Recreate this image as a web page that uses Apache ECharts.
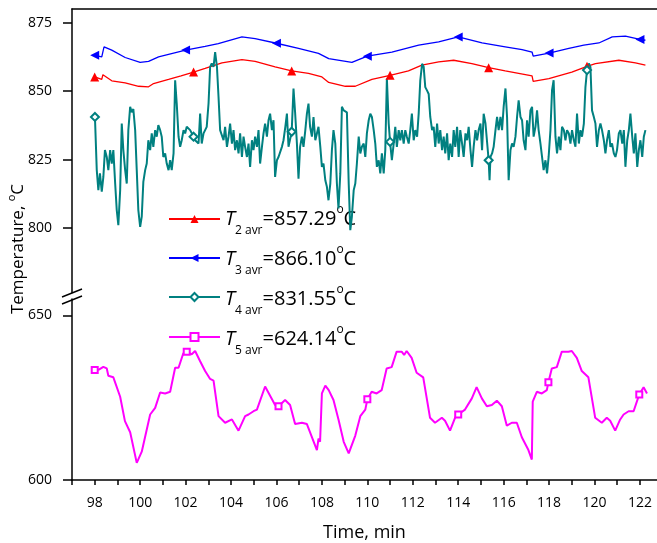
<!DOCTYPE html>
<html>
<head>
<meta charset="utf-8">
<script src="https://cdn.jsdelivr.net/npm/echarts@6.0.0/dist/echarts.min.js"></script>
<style>
  html, body { margin: 0; padding: 0; background: #fff; }
  #chart { width: 657px; height: 543px; }
</style>
</head>
<body>
<div id="chart"></div>
<script>
// ---- data ----
const xLabels = [98, 100, 102, 104, 106, 108, 110, 112, 114, 116, 118, 120, 122];
const upperLabels = [800, 825, 850, 875];
const lowerLabels = [600, 650];

const seriesNames = ['T2', 'T3', 'T4', 'T5'];
const subLabels = ['2 avr', '3 avr', '4 avr', '5 avr'];
const avgLabels = ['857.29', '866.10', '831.55', '624.14'];

// T2 (red)
const t2Time = [98.0, 98.31, 98.33, 98.36, 98.75, 99.34, 99.93, 100.37, 100.59, 101.25, 101.8, 102.35, 102.86,
  103.6, 104.48, 105.06, 105.94, 106.67, 107.41, 108.0, 108.3, 109.03, 109.47, 110.2, 111.0, 111.81, 112.4,
  113.14, 113.8, 114.6, 115.34, 116.07, 116.66, 117.25, 117.3, 117.99, 119.0, 119.67, 120.04, 121.07, 121.8, 122.24];
const t2Temp = [855.2, 854.3, 854.2, 856.0, 853.8, 853.0, 851.8, 851.6, 852.8, 854.3, 855.6, 857.0, 858.3,
  860.3, 861.5, 860.9, 858.9, 857.4, 856.5, 855.2, 853.2, 851.8, 851.8, 854.3, 855.8, 857.4, 859.5,
  860.7, 861.3, 860.1, 858.6, 857.4, 856.5, 855.6, 853.6, 854.6, 857.0, 859.1, 860.1, 861.3, 860.3, 859.5];
const t2Marks = [98.0, 102.35, 106.67, 111.0, 115.34, 119.67];

// T3 (blue)
const t3Time = [98.0, 98.31, 98.38, 98.41, 98.75, 99.34, 100.0, 100.37, 100.81, 102.0, 102.86, 103.44, 104.48,
  105.06, 106.0, 106.97, 107.85, 108.3, 109.32, 110.0, 110.2, 111.08, 112.26, 113.14, 114.0, 115.05, 116.07,
  116.81, 117.25, 117.3, 118.0, 118.87, 119.53, 120.19, 120.78, 121.36, 122.0, 122.24];
const t3Temp = [863.1, 862.5, 862.6, 866.2, 865.0, 862.3, 860.5, 860.9, 862.5, 865.0, 866.4, 867.4, 869.8,
  869.2, 867.5, 865.6, 863.8, 861.9, 860.5, 862.8, 863.1, 864.3, 866.8, 868.0, 869.8, 867.6, 866.2,
  865.2, 864.3, 862.8, 863.9, 865.6, 866.8, 867.6, 869.8, 870.1, 868.9, 868.6];
const t3Marks = [98.0, 102.0, 106.0, 110.0, 114.0, 118.0, 122.0];

// T4 (teal)
const t4Time = [98.01, 98.09, 98.16, 98.23, 98.31, 98.38, 98.45, 98.53, 98.6, 98.68, 98.75, 98.82, 98.9, 98.97,
  99.04, 99.12, 99.19, 99.26, 99.34, 99.41, 99.48, 99.56, 99.63, 99.7, 99.78, 99.85, 99.92, 100.0, 100.07,
  100.14, 100.22, 100.29, 100.36, 100.44, 100.51, 100.58, 100.66, 100.73, 100.8, 100.88, 100.95, 101.02,
  101.1, 101.17, 101.25, 101.32, 101.39, 101.47, 101.54, 101.61, 101.69, 101.76, 101.83, 101.91, 101.98,
  102.05, 102.2, 102.35, 102.42, 102.57, 102.64, 102.71, 102.79, 102.86, 102.93, 103.01, 103.08, 103.15,
  103.23, 103.3, 103.38, 103.45, 103.52, 103.6, 103.67, 103.74, 103.82, 103.89, 103.96, 104.04, 104.11,
  104.18, 104.26, 104.33, 104.4, 104.48, 104.55, 104.62, 104.7, 104.77, 104.84, 104.92, 104.99, 105.06,
  105.14, 105.21, 105.28, 105.36, 105.43, 105.5, 105.58, 105.65, 105.72, 105.8, 105.87, 105.94, 106.02,
  106.09, 106.24, 106.31, 106.39, 106.46, 106.53, 106.67, 106.75, 106.82, 106.9, 106.97, 107.04, 107.12,
  107.19, 107.27, 107.34, 107.41, 107.48, 107.56, 107.63, 107.71, 107.78, 107.85, 107.93, 108.0, 108.07,
  108.15, 108.22, 108.29, 108.37, 108.44, 108.51, 108.59, 108.66, 108.73, 108.81, 108.88, 108.96, 109.03,
  109.1, 109.18, 109.25, 109.32, 109.4, 109.47, 109.54, 109.62, 109.69, 109.76, 109.84, 109.91, 109.98,
  110.06, 110.13, 110.2, 110.28, 110.35, 110.42, 110.5, 110.57, 110.64, 110.72, 110.79, 110.86, 110.94,
  111.0, 111.08, 111.16, 111.23, 111.3, 111.38, 111.45, 111.52, 111.6, 111.67, 111.74, 111.82, 111.89,
  111.96, 112.04, 112.11, 112.19, 112.26, 112.33, 112.41, 112.48, 112.55, 112.63, 112.7, 112.77, 112.85,
  112.92, 112.99, 113.07, 113.14, 113.21, 113.29, 113.36, 113.43, 113.51, 113.58, 113.65, 113.73, 113.8,
  113.87, 113.95, 114.02, 114.09, 114.17, 114.24, 114.32, 114.39, 114.46, 114.54, 114.61, 114.68, 114.76,
  114.83, 114.9, 114.98, 115.05, 115.12, 115.2, 115.34, 115.38, 115.42, 115.49, 115.56, 115.64, 115.71,
  115.78, 115.86, 115.93, 116.0, 116.08, 116.15, 116.22, 116.3, 116.37, 116.44, 116.52, 116.59, 116.66,
  116.74, 116.81, 116.88, 116.96, 117.03, 117.1, 117.18, 117.25, 117.32, 117.4, 117.47, 117.54, 117.62,
  117.69, 117.76, 117.84, 117.91, 117.98, 118.06, 118.13, 118.2, 118.28, 118.35, 118.43, 118.5, 118.57,
  118.65, 118.72, 118.79, 118.87, 118.94, 119.01, 119.09, 119.16, 119.23, 119.31, 119.38, 119.45, 119.53,
  119.6, 119.67, 119.75, 119.82, 119.89, 119.97, 120.04, 120.11, 120.19, 120.26, 120.33, 120.41, 120.48,
  120.55, 120.63, 120.7, 120.77, 120.85, 120.92, 120.99, 121.07, 121.14, 121.22, 121.29, 121.36, 121.44,
  121.51, 121.58, 121.66, 121.73, 121.8, 121.88, 121.95, 122.02, 122.1, 122.17, 122.24];
const t4Temp = [840.6, 821.2, 813.9, 820.0, 813.3, 818.7, 828.5, 826.0, 821.2, 828.5, 823.6, 828.5, 816.3, 806.6,
  801.1, 813.9, 838.2, 828.5, 821.2, 816.3, 835.8, 844.3, 842.3, 843.5, 835.8, 821.2, 806.6, 800.5, 804.2,
  816.9, 821.2, 823.6, 832.1, 828.5, 834.6, 829.7, 835.8, 833.4, 837.6, 835.8, 833.4, 826.0,
  827.3, 823.6, 821.2, 824.8, 821.2, 827.3, 854.0, 845.5, 833.4, 829.7, 832.1, 835.8, 834.6,
  837.0, 835.8, 833.4, 832.1, 830.9, 841.8, 830.9, 834.6, 834.6, 837.0, 845.5, 858.9, 860.1,
  858.9, 864.3, 858.9, 847.9, 835.8, 835.8, 832.1, 837.0, 829.7, 833.4, 838.2, 830.9, 835.8,
  828.5, 832.1, 827.3, 834.6, 826.0, 833.4, 829.7, 826.0, 830.9, 822.4, 832.1, 828.5, 833.4,
  829.7, 835.8, 823.6, 829.7, 834.6, 838.2, 833.4, 839.4, 841.8, 835.8, 839.4, 818.7, 824.8,
  826.0, 829.7, 832.1, 837.0, 841.8, 829.7, 835.2, 851.0, 842.3, 830.9, 818.1, 829.7, 833.4,
  829.7, 835.8, 841.8, 845.5, 837.0, 833.4, 840.6, 832.1, 834.6, 837.0, 829.7, 822.4, 823.6,
  817.5, 815.1, 810.2, 816.3, 828.5, 835.8, 830.9, 816.3, 807.2, 820.0, 844.3, 843.0, 843.5,
  842.3, 816.3, 799.3, 804.2, 813.9, 816.3, 823.6, 833.4, 827.3, 829.7, 830.9, 826.0, 834.6,
  839.4, 841.8, 840.6, 835.8, 830.9, 822.4, 824.8, 820.0, 827.3, 820.0, 828.5, 854.6, 838.2,
  831.5, 824.8, 830.9, 837.0, 829.7, 835.8, 832.1, 835.8, 830.9, 835.8, 833.4, 830.9, 835.8,
  841.8, 832.1, 835.8, 833.4, 841.8, 853.9, 860.0, 858.9, 851.5, 850.2, 849.0, 840.6, 835.8,
  837.0, 829.7, 838.2, 830.9, 835.8, 828.5, 833.4, 827.3, 834.6, 824.8, 830.9, 826.0, 835.8,
  829.7, 837.0, 826.0, 835.8, 830.9, 826.0, 834.6, 832.1, 837.0, 828.5, 822.4, 829.7, 835.8,
  832.1, 835.8, 838.2, 828.5, 841.8, 838.2, 824.8, 817.5, 826.0, 827.3, 829.7, 835.8, 840.6,
  835.8, 840.6, 835.8, 844.3, 851.0, 840.6, 817.5, 828.5, 830.9, 829.7, 833.4, 840.6, 846.7,
  840.6, 839.4, 832.1, 828.5, 839.4, 833.4, 843.0, 844.3, 833.4, 837.0, 843.0, 835.8, 830.9,
  826.0, 821.2, 824.8, 820.0, 826.0, 835.8, 850.4, 854.0, 833.4, 827.3, 833.4, 828.5, 837.0,
  835.8, 832.1, 835.8, 834.6, 830.9, 835.8, 832.1, 829.7, 841.8, 830.9, 835.8, 833.4, 838.2,
  851.5, 857.7, 860.1, 858.9, 843.0, 840.6, 838.2, 829.7, 835.8, 838.2, 835.8, 832.1, 827.3,
  832.1, 835.8, 829.7, 830.9, 827.3, 826.0, 828.5, 834.6, 835.8, 830.9, 835.8, 822.4, 832.1,
  835.8, 841.8, 833.4, 827.3, 834.6, 822.4, 828.5, 832.1, 826.0, 833.4, 835.8];
const t4Marks = [98.01, 102.35, 106.67, 111.0, 115.34, 119.67];

// T5 (magenta)
const t5Time = [98.0, 98.2, 98.38, 98.53, 98.6, 98.82, 99.12, 99.33, 99.56, 99.85, 100.07, 100.44, 100.66, 100.88,
  101.1, 101.32, 101.54, 101.69, 101.9, 102.05, 102.27, 102.42, 102.64, 102.86, 103.08, 103.23, 103.45,
  103.74, 104.04, 104.33, 104.62, 104.77, 104.99, 105.14, 105.5, 105.94, 106.09, 106.38, 106.6, 106.82,
  107.12, 107.34, 107.78, 107.85, 107.92, 108.0, 108.15, 108.3, 108.51, 108.73, 108.96, 109.18, 109.47,
  109.69, 109.91, 110.0, 110.19, 110.41, 110.63, 110.85, 111.07, 111.29, 111.51, 111.62, 111.73, 111.95,
  112.17, 112.46, 112.76, 112.98, 113.28, 113.42, 113.64, 113.86, 114.0, 114.3, 114.6, 114.81, 115.04,
  115.26, 115.48, 115.7, 115.92, 116.14, 116.36, 116.58, 116.8, 117.09, 117.24, 117.28, 117.46, 117.68,
  117.9, 117.97, 118.12, 118.34, 118.56, 118.85, 119.0, 119.22, 119.44, 119.73, 120.03, 120.32, 120.54,
  120.69, 120.91, 121.13, 121.28, 121.5, 121.72, 121.97, 122.16, 122.31];
const t5Temp = [633.4, 633.6, 634.4, 633.9, 631.7, 631.2, 625.3, 617.9, 614.5, 605.2, 608.6, 619.9, 621.9, 626.6,
  626.3, 626.8, 634.1, 634.1, 638.5, 639.0, 638.2, 639.2, 636.1, 633.1, 630.7, 630.2, 619.4,
  617.4, 618.4, 615.0, 619.4, 619.9, 620.9, 621.4, 628.4, 622.8, 622.4, 624.3, 622.8, 617.0,
  617.4, 617.0, 609.1, 612.6, 611.6, 626.3, 628.7, 627.3, 624.3, 618.4, 611.6, 608.1, 613.5,
  619.4, 621.4, 624.5, 626.8, 626.3, 627.3, 633.9, 634.3, 639.0, 639.0, 638.0, 639.2, 637.1,
  632.6, 631.2, 618.9, 617.4, 618.9, 618.0, 615.0, 618.9, 619.9, 621.4, 624.8, 628.2, 624.8,
  622.4, 622.8, 624.1, 622.4, 616.5, 617.4, 617.4, 613.0, 609.1, 606.2, 623.8, 626.8, 626.3,
  627.3, 629.7, 633.9, 634.3, 639.0, 639.0, 639.2, 637.1, 633.1, 631.2, 618.9, 617.4, 618.9,
  618.0, 615.0, 618.4, 619.9, 620.9, 620.9, 626.0, 628.2, 626.3];
const t5Marks = [98.0, 102.05, 106.09, 110.0, 114.0, 117.97, 121.97];

// ---- chart ----
const FONT = 'Open Sans';
const chart = echarts.init(document.getElementById('chart'));

function pairs(ts, vs) {
  return ts.map((t, i) => [t, vs[i]]);
}
function marker(marks, size) {
  return (val) => (marks.indexOf(val[0]) >= 0 ? size : 0);
}
function range(a, b, step) {
  const out = [];
  for (let v = a; v <= b + 1e-9; v += step) out.push(v);
  return out;
}

// legend rows: icons come from the legend component, the labels are rich text next to them
const legendTop = 214;
const legendRowGap = 40;
const legendLabels = seriesNames.map((n, i) => ({
  type: 'text',
  x: 225,
  y: legendTop + 5 + i * legendRowGap,
  style: {
    text: '{t|T}{s|' + subLabels[i] + '}{v|=' + avgLabels[i] + '}{o|o}{v|C}',
    align: 'left', verticalAlign: 'middle', fill: '#000',
    rich: {
      t: { fontSize: 20, fontStyle: 'italic', fontFamily: FONT, fill: '#000' },
      s: { fontSize: 12, fontFamily: FONT, padding: [24, 0, 0, 0], fill: '#000' },
      v: { fontSize: 20, fontFamily: FONT, fill: '#000' },
      o: { fontSize: 12, fontFamily: FONT, padding: [0, 0, 18, 0], fill: '#000' }
    }
  }
}));

const axisLine = { show: true, lineStyle: { color: '#000', width: 1.5 } };

const option = {
  animation: false,
  backgroundColor: '#fff',
  textStyle: { fontFamily: FONT },
  grid: [
    { left: 72, right: 0, top: 9, height: 283.6 },
    { left: 72, right: 0, top: 299, height: 187 }
  ],
  xAxis: [
    {
      gridIndex: 0, type: 'value', min: 97, max: 122.75, position: 'top',
      axisLine: axisLine, axisTick: { show: false }, axisLabel: { show: false }, splitLine: { show: false }
    },
    {
      gridIndex: 1, type: 'value', min: 97, max: 122.75, position: 'bottom',
      axisLine: axisLine,
      axisTick: { show: true, customValues: range(97, 122, 1), length: 5, lineStyle: { color: '#000', width: 1.5 } },
      axisLabel: { customValues: xLabels, color: '#000', fontSize: 14, margin: 16, fontFamily: FONT },
      splitLine: { show: false },
      name: 'Time, min', nameLocation: 'middle', nameGap: 44,
      nameTextStyle: { color: '#000', fontSize: 18, fontFamily: FONT }
    }
  ],
  yAxis: [
    {
      gridIndex: 0, type: 'value', min: 776.5, max: 880,
      axisLine: axisLine,
      axisTick: { show: true, customValues: upperLabels, length: 9, lineStyle: { color: '#000', width: 1.5 } },
      axisLabel: { customValues: upperLabels, color: '#000', fontSize: 14, margin: 20, fontFamily: FONT },
      splitLine: { show: false }
    },
    {
      gridIndex: 1, type: 'value', min: 600, max: 655,
      axisLine: axisLine,
      axisTick: { show: true, customValues: lowerLabels, length: 9, lineStyle: { color: '#000', width: 1.5 } },
      axisLabel: { customValues: lowerLabels, color: '#000', fontSize: 14, margin: 20, fontFamily: FONT },
      splitLine: { show: false }
    },
    {
      gridIndex: 0, type: 'value', min: 776.5, max: 880,
      axisLine: { show: false },
      axisTick: { show: true, customValues: [787.5, 812.5, 837.5, 862.5], length: 5, lineStyle: { color: '#000', width: 1.5 } },
      axisLabel: { show: false }, splitLine: { show: false }
    },
    {
      gridIndex: 1, type: 'value', min: 600, max: 655,
      axisLine: { show: false },
      axisTick: { show: true, customValues: [625], length: 5, lineStyle: { color: '#000', width: 1.5 } },
      axisLabel: { show: false }, splitLine: { show: false }
    }
  ],
  legend: {
    data: seriesNames,
    orient: 'vertical',
    left: 168, top: legendTop, padding: 0,
    itemWidth: 51, itemHeight: 10, itemGap: legendRowGap - 10,
    selectedMode: false,
    formatter: () => '',
    textStyle: { fontSize: 1 }
  },
  graphic: [
    {
      type: 'text', x: 18, y: 249, rotation: Math.PI / 2,
      style: {
        text: '{a|Temperature, }{o|o}{a|C}',
        align: 'center', verticalAlign: 'middle', fill: '#000',
        rich: {
          a: { fontSize: 17, fontFamily: FONT, lineHeight: 24, fill: '#000' },
          o: { fontSize: 11, fontFamily: FONT, lineHeight: 14, verticalAlign: 'top', fill: '#000' }
        }
      }
    },
    { type: 'line', shape: { x1: 62, y1: 297, x2: 82, y2: 289 }, style: { stroke: '#000', lineWidth: 1.5 } },
    { type: 'line', shape: { x1: 62, y1: 304, x2: 82, y2: 296 }, style: { stroke: '#000', lineWidth: 1.5 } }
  ].concat(legendLabels),
  series: [
    {
      name: 'T2', type: 'line', xAxisIndex: 0, yAxisIndex: 0,
      data: pairs(t2Time, t2Temp), color: '#ff0000',
      symbol: 'triangle', symbolSize: marker(t2Marks, 9), showAllSymbol: true,
      lineStyle: { width: 1.3 }
    },
    {
      name: 'T3', type: 'line', xAxisIndex: 0, yAxisIndex: 0,
      data: pairs(t3Time, t3Temp), color: '#0000ff',
      symbol: 'triangle', symbolRotate: 90, symbolSize: marker(t3Marks, 9), showAllSymbol: true,
      lineStyle: { width: 1.3 }
    },
    {
      name: 'T4', type: 'line', xAxisIndex: 0, yAxisIndex: 0,
      data: pairs(t4Time, t4Temp), color: '#008080',
      symbol: 'emptyDiamond', symbolSize: marker(t4Marks, 8), showAllSymbol: true,
      itemStyle: { borderWidth: 1 },
      lineStyle: { width: 2 }
    },
    {
      name: 'T5', type: 'line', xAxisIndex: 1, yAxisIndex: 1,
      data: pairs(t5Time, t5Temp), color: '#ff00ff',
      symbol: 'emptyRect', symbolSize: marker(t5Marks, 6), showAllSymbol: true,
      itemStyle: { borderWidth: 1 },
      lineStyle: { width: 2 }
    }
  ]
};

chart.setOption(option);
</script>
</body>
</html>
